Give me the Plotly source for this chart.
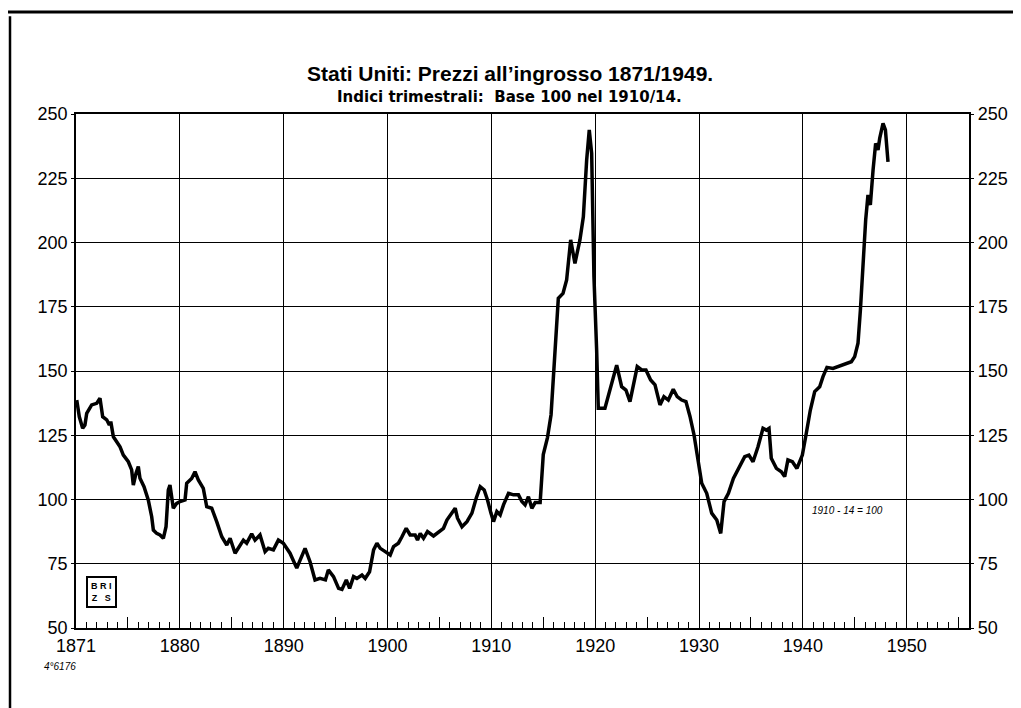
import plotly.graph_objects as go

# ---- data (x positions in years as drawn, index base 1910/14 = 100) ----
years = [
    1870.07, 1870.32, 1870.64, 1870.86, 1871.03, 1871.51, 1871.99, 1872.31, 1872.57, 1872.96,
    1873.21, 1873.35, 1873.60, 1873.92, 1874.24, 1874.56, 1875.04, 1875.36, 1875.52, 1875.78,
    1876.00, 1876.16, 1876.55, 1876.96, 1877.29, 1877.45, 1877.77, 1878.09, 1878.41, 1878.67,
    1878.89, 1879.05, 1879.21, 1879.37, 1879.70, 1880.02, 1880.50, 1880.66, 1881.14, 1881.46,
    1881.78, 1882.26, 1882.59, 1883.07, 1883.55, 1884.04, 1884.52, 1884.84, 1885.32, 1885.64,
    1886.12, 1886.44, 1886.92, 1887.24, 1887.72, 1888.21, 1888.52, 1889.01, 1889.49, 1889.97,
    1890.61, 1891.26, 1891.58, 1892.06, 1892.54, 1893.02, 1893.50, 1894.02, 1894.30, 1894.80,
    1895.29, 1895.61, 1896.03, 1896.35, 1896.73, 1897.05, 1897.54, 1897.85, 1898.27, 1898.66,
    1898.98, 1899.30, 1899.78, 1900.26, 1900.58, 1901.05, 1901.39, 1901.80, 1902.18, 1902.66,
    1902.89, 1903.15, 1903.47, 1903.85, 1904.43, 1904.91, 1905.39, 1905.72, 1906.20, 1906.52,
    1906.74, 1907.17, 1907.65, 1908.13, 1908.54, 1908.93, 1909.31, 1909.63, 1909.96, 1910.21,
    1910.53, 1910.85, 1911.17, 1911.65, 1912.13, 1912.61, 1912.94, 1913.25, 1913.57, 1913.90,
    1914.22, 1914.70, 1915.00, 1915.40, 1915.75, 1916.10, 1916.45, 1916.90, 1917.25, 1917.64,
    1918.05, 1918.53, 1918.86, 1919.18, 1919.43, 1919.66, 1919.88, 1920.14, 1920.30, 1920.94,
    1921.42, 1922.07, 1922.55, 1922.96, 1923.35, 1924.05, 1924.48, 1924.89, 1925.34, 1925.76,
    1926.24, 1926.62, 1927.04, 1927.52, 1927.90, 1928.33, 1928.74, 1929.13, 1929.52, 1929.78,
    1930.26, 1930.74, 1931.22, 1931.71, 1932.09, 1932.41, 1932.83, 1933.31, 1933.79, 1934.40,
    1934.80, 1935.20, 1935.68, 1936.16, 1936.48, 1936.74, 1936.96, 1937.45, 1937.93, 1938.25,
    1938.56, 1938.99, 1939.43, 1939.95, 1940.33, 1940.72, 1941.14, 1941.62, 1941.94, 1942.32,
    1942.90, 1943.55, 1944.19, 1944.67, 1944.99, 1945.31, 1945.54, 1945.79, 1946.05, 1946.27,
    1946.50, 1946.76, 1947.01, 1947.24, 1947.40, 1947.72, 1947.95, 1948.20,
]
index_values = [
    138.7, 132.2, 127.7, 129.0, 133.5, 136.8, 137.4, 139.4, 132.2, 131.0,
    129.0, 130.3, 124.4, 122.5, 120.5, 117.3, 114.7, 111.5, 105.6, 110.2,
    112.8, 108.3, 105.0, 99.8, 93.3, 88.1, 86.8, 86.2, 84.9, 89.4,
    103.7, 105.6, 99.8, 96.6, 98.5, 99.2, 99.8, 106.3, 108.2, 110.8,
    107.6, 104.3, 97.2, 96.6, 91.4, 85.5, 82.3, 84.9, 79.1, 81.0,
    84.2, 83.0, 86.6, 84.2, 86.2, 79.7, 81.0, 80.4, 84.2, 83.0,
    79.1, 73.3, 76.5, 81.0, 75.8, 68.7, 69.3, 68.7, 72.6, 70.0,
    65.4, 65.0, 68.7, 65.4, 70.0, 69.3, 70.6, 69.3, 71.9, 80.4,
    83.0, 81.0, 79.7, 78.4, 81.7, 83.0, 85.5, 88.8, 86.2, 86.2,
    84.2, 86.8, 84.9, 87.5, 85.8, 87.5, 88.8, 92.0, 94.7, 96.6,
    92.7, 89.4, 91.4, 94.7, 100.5, 105.0, 103.7, 99.8, 94.7, 91.4,
    95.3, 94.0, 97.9, 102.4, 101.8, 101.8, 99.2, 97.9, 101.1, 96.6,
    98.8, 98.8, 117.5, 124.0, 133.0, 158.2, 178.3, 180.2, 185.4, 201.0,
    191.9, 201.0, 210.0, 232.1, 243.8, 234.7, 186.7, 158.2, 135.5, 135.5,
    142.6, 152.3, 143.9, 142.6, 138.1, 151.7, 150.4, 150.4, 146.5, 144.6,
    136.8, 140.0, 138.7, 142.9, 140.0, 138.7, 138.1, 132.3, 125.1, 118.0,
    106.3, 102.4, 94.7, 92.0, 86.8, 99.2, 102.4, 108.2, 112.1, 116.7,
    117.3, 114.7, 120.5, 127.7, 127.0, 127.7, 116.0, 112.1, 110.8, 108.9,
    115.4, 114.7, 112.1, 117.3, 125.8, 134.8, 142.0, 143.9, 147.8, 151.4,
    151.0, 151.9, 153.0, 153.6, 155.6, 160.8, 173.7, 193.2, 208.8, 218.5,
    214.6, 228.2, 238.6, 236.0, 240.5, 246.4, 243.8, 231.4,
]

decade_ticks = [1870, 1880, 1890, 1900, 1910, 1920, 1930, 1940, 1950]
decade_labels = ["1871", "1880", "1890", "1900", "1910", "1920", "1930", "1940", "1950"]
five_year_ticks = [1875, 1885, 1895, 1905, 1915, 1925, 1935, 1945, 1955]
year_ticks = list(range(1871, 1956))
y_ticks = [50, 75, 100, 125, 150, 175, 200, 225, 250]

title_text = "<b>Stati Uniti: Prezzi all’ingrosso 1871/1949.</b>"
subtitle_text = "<b>Indici trimestrali:  Base 100 nel 1910/14.</b>"
note_text = "<i>1910 - 14 = 100</i>"
ref_text = "<i>4°6176</i>"
logo_text = "<b>B R I</b><br><b>Z   S</b>"

X_RANGE = [1870, 1956]
Y_RANGE = [50, 250]

fig = go.Figure()
fig.add_trace(go.Scatter(
    x=years, y=index_values, mode="lines",
    line=dict(color="black", width=3.5),
    hoverinfo="x+y", showlegend=False,
))
# invisible companion trace so the overlay axes (5-year ticks, right scale) are drawn
fig.add_trace(go.Scatter(
    x=years, y=index_values, mode="lines", xaxis="x2", yaxis="y2",
    line=dict(color="rgba(0,0,0,0)", width=0), hoverinfo="skip", showlegend=False,
))

tick_font = dict(family="Liberation Sans Narrow, Arial Narrow, sans-serif", size=18, color="black")

# page body has an 8px margin, so the figure is sized/offset to compensate
fig.update_layout(
    width=1013, height=700,
    margin=dict(l=68, r=52, t=106, b=80),
    paper_bgcolor="white", plot_bgcolor="white",
    xaxis=dict(
        range=X_RANGE, tickmode="array", tickvals=decade_ticks, ticktext=decade_labels,
        showgrid=True, gridcolor="black", gridwidth=1.4,
        ticks="", showline=True, linecolor="black", linewidth=2, mirror=True,
        tickfont=dict(family="Liberation Sans Narrow, Arial Narrow, sans-serif", size=18, color="black"),
        minor=dict(tickmode="array", tickvals=year_ticks, ticks="inside", ticklen=6,
                   tickwidth=1.3, tickcolor="black", showgrid=False),
        zeroline=False, fixedrange=True,
    ),
    xaxis2=dict(
        range=X_RANGE, overlaying="x", anchor="y", side="bottom",
        tickmode="array", tickvals=five_year_ticks, ticks="inside", ticklen=11,
        tickwidth=1.3, tickcolor="black", showticklabels=False, showgrid=False,
        showline=False, zeroline=False,
    ),
    yaxis=dict(
        range=Y_RANGE, tickmode="array", tickvals=y_ticks,
        showgrid=True, gridcolor="black", gridwidth=1.4,
        ticks="outside", ticklen=3, tickwidth=1.3, tickcolor="black",
        showline=True, linecolor="black", linewidth=1.5,
        tickfont=tick_font, zeroline=False,
    ),
    yaxis2=dict(
        range=Y_RANGE, overlaying="y", anchor="x", side="right",
        tickmode="array", tickvals=y_ticks,
        ticks="outside", ticklen=3, tickwidth=1.3, tickcolor="black",
        showline=True, linecolor="black", linewidth=2.2,
        showgrid=False, zeroline=False, tickfont=tick_font,
    ),
    annotations=[
        dict(text=title_text, xref="paper", yref="paper", x=0.486, y=1.078,
             xanchor="center", yanchor="middle", showarrow=False,
             font=dict(family="Liberation Sans, Arial, sans-serif", size=21, color="black")),
        dict(text=subtitle_text, xref="paper", yref="paper", x=0.486, y=1.034,
             xanchor="center", yanchor="middle", showarrow=False,
             font=dict(family="DejaVu Sans, sans-serif", size=15, color="black")),
        dict(text=note_text, xref="paper", yref="paper", x=0.8645, y=0.228,
             xanchor="center", yanchor="middle", showarrow=False,
             font=dict(family="Liberation Sans Narrow, sans-serif", size=10, color="black")),
        dict(text=ref_text, xref="paper", yref="paper", x=0.002, y=-0.074,
             xanchor="right", yanchor="middle", showarrow=False,
             font=dict(family="Liberation Sans, sans-serif", size=10, color="black")),
        dict(text=logo_text, xref="paper", yref="paper", x=0.028, y=0.070,
             xanchor="center", yanchor="middle", showarrow=False,
             bordercolor="black", borderwidth=2, borderpad=3,
             font=dict(family="Liberation Sans Narrow, sans-serif", size=9, color="black")),
    ],
    shapes=[
        dict(type="line", xref="paper", yref="paper", x0=-0.0851, x1=1.0582, y0=1.1984, y1=1.1984,
             line=dict(color="black", width=3)),
        dict(type="line", xref="paper", yref="paper", x0=-0.0739, x1=-0.0739, y0=1.19, y1=-0.16,
             line=dict(color="black", width=2.5)),
    ],
)

fig.write_html("out.html")
